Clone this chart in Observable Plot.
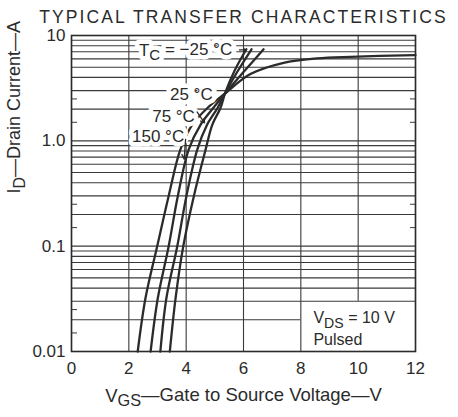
<!DOCTYPE html>
<html><head><meta charset="utf-8">
<script src="https://cdn.jsdelivr.net/npm/d3@7"></script>
<script src="https://cdn.jsdelivr.net/npm/@observablehq/plot@0.6"></script>
<style>
html,body{margin:0;padding:0;background:#fff;}
#chart svg{display:block;}
</style></head><body><div id="chart"></div>
<script>
// ---- text ----
const titleText = "TYPICAL TRANSFER CHARACTERISTICS";
const xAxisLabel = "VGS—Gate to Source Voltage—V";
const yAxisLabel = "ID—Drain Current—A";

// ---- axes ----
const xTicks = [0, 2, 4, 6, 8, 10, 12];
const yTickValues = [0.01, 0.1, 1, 10];
const yTickLabels = ["0.01", "0.1", "1.0", "10"];

// ---- grid ----
const decades = [0.01, 0.1, 1];
const mantissas = [1, 2, 3, 4, 5, 6, 7, 8, 9];
const minorMantissas = [1.5, 2.5];
const gridX = [0, 2, 4, 6, 8, 12];

// ---- series (V_GS in volts, I_D in amperes) ----
const series = ["−25", "25", "75", "150"];
const vgs_m25 = [3.43, 3.63, 3.90, 4.27, 4.68, 4.91, 5.20, 5.35, 5.70, 6.10];
const id_m25  = [0.01, 0.032, 0.1, 0.3, 0.83, 1.42, 2.06, 2.8, 4.7, 7.4];
const vgs_25  = [3.10, 3.31, 3.69, 4.01, 4.39, 4.73, 5.10, 5.35, 5.80, 6.28];
const id_25   = [0.01, 0.032, 0.1, 0.3, 0.83, 1.42, 2.06, 2.8, 4.6, 7.4];
const vgs_75  = [2.76, 3.01, 3.39, 3.71, 4.09, 4.50, 4.95, 5.35, 6.0, 6.7];
const id_75   = [0.01, 0.032, 0.1, 0.3, 0.83, 1.42, 2.06, 2.8, 4.5, 7.4];
const vgs_150 = [2.31, 2.58, 2.99, 3.39, 3.80, 4.21, 4.75, 5.35, 6.24, 7.40, 8.57, 9.73, 12.0];
const id_150  = [0.01, 0.032, 0.1, 0.3, 0.83, 1.42, 2.06, 2.8, 4.3, 5.5, 6.06, 6.28, 6.52];

// ---- annotations ----
const labelText = ["TC = −25 °C", "25 °C", "75 °C", "150 °C"];
const labelV = [3.98, 4.18, 3.56, 3.02];
const labelI = [7.27, 2.75, 1.71, 1.105];
const arrowV1 = [5.86, 4.38, 3.98];
const arrowI1 = [7.3, 1.88, 1.03];
const arrowV2 = [6.08, 4.64, 3.93];
const arrowI2 = [7.3, 1.48, 0.67];
const condText = ["VDS = 10 V", "Pulsed"];
const condV = [8.44, 8.44];
const condI = [0.0185, 0.0115];

// ---- build tables ----
const curveRows = [];
[[vgs_m25, id_m25], [vgs_25, id_25], [vgs_75, id_75], [vgs_150, id_150]].forEach(([vs, is], k) => {
  vs.forEach((v, j) => curveRows.push({t: series[k], v, i: is[j]}));
});
const hLines = [];
decades.forEach(d => mantissas.forEach(m => hLines.push(+(d * m).toPrecision(3))));
const hFull = hLines.filter(y => y !== 0.02);
const minorTicks = [];
decades.forEach(d => minorMantissas.forEach(m => minorTicks.push(+(d * m).toPrecision(3))));
const minorRight = minorTicks.filter(y => y > 0.03);

const labels = labelText.map((t, k) => ({t, v: labelV[k], i: labelI[k]}));
const arrows = arrowV1.map((v, k) => ({x1: v, y1: arrowI1[k], x2: arrowV2[k], y2: arrowI2[k]}));
const conds = condText.map((t, k) => ({t, v: condV[k], i: condI[k]}));

const ink = "#2b2b2b";
const font = "'Liberation Sans', Arial, Helvetica, sans-serif";

const chart = Plot.plot({
  width: 458, height: 417,
  marginLeft: 71, marginRight: 43, marginTop: 35, marginBottom: 66,
  style: {fontFamily: font, fontSize: "16px", color: ink, background: "#fff", overflow: "visible"},
  x: {domain: [0, 12]},
  y: {type: "log", domain: [0.01, 10]},
  marks: [
    Plot.ruleY(hFull, {x1: 0, x2: 12, stroke: "#3a3a3a", strokeWidth: 1.1}),
    Plot.ruleY([0.02], {x1: 0, x2: 8, stroke: "#3a3a3a", strokeWidth: 1.1}),
    Plot.ruleX(gridX, {y1: 0.01, y2: 10, stroke: "#3a3a3a", strokeWidth: 1.1}),
    Plot.ruleX([10], {y1: 0.03, y2: 10, stroke: "#3a3a3a", strokeWidth: 1.1}),
    Plot.axisY(minorTicks, {anchor: "left", tickSize: -6, tickFormat: () => "", label: null, stroke: "#3a3a3a"}),
    Plot.axisY(minorRight, {anchor: "right", tickSize: -6, tickFormat: () => "", label: null, stroke: "#3a3a3a"}),
    Plot.axisY(yTickValues, {anchor: "left", tickSize: 0, tickPadding: 6, fontSize: 17,
      tickFormat: d => yTickLabels[yTickValues.indexOf(d)], label: null}),
    Plot.axisX(xTicks, {anchor: "bottom", tickSize: 0, tickPadding: 10, fontSize: 17, label: null}),
    Plot.frame({stroke: ink, strokeWidth: 1.6}),
    Plot.line(curveRows, {x: "v", y: "i", z: "t", curve: "catmull-rom", stroke: ink, strokeWidth: 2.3}),
    Plot.text(labels, {x: "v", y: "i", text: "t", fontSize: 17, fill: ink, stroke: "white", strokeWidth: 9}),
    Plot.arrow(arrows, {x1: "x1", y1: "y1", x2: "x2", y2: "y2", stroke: ink, strokeWidth: 1.3, headLength: 6}),
    Plot.text(conds, {x: "v", y: "i", text: "t", textAnchor: "start", lineAnchor: "bottom", fontSize: 16, fill: ink}),
    Plot.text([titleText], {frameAnchor: "top", dy: -25, fontSize: 17.5, fill: ink}),
    Plot.text([xAxisLabel], {frameAnchor: "bottom", dy: 50, fontSize: 18.5, fill: ink}),
    Plot.text([yAxisLabel], {frameAnchor: "left", dx: -57, rotate: -90, fontSize: 18, fill: ink})
  ]
});
document.getElementById("chart").appendChild(chart);

// subscripts and letter spacing
const subParts = {
  "TC = −25 °C": [["T", 0], ["C", 1], [" = −25 °C", 0]],
  "VDS = 10 V": [["V", 0], ["DS", 1], [" = 10 V", 0]],
  [xAxisLabel]: [["V", 0], ["GS", 1], ["—Gate to Source Voltage—V", 0]],
  [yAxisLabel]: [["I", 0], ["D", 1], ["—Drain Current—A", 0]]
};
d3.select(chart).selectAll("text").each(function() {
  const t = this.textContent;
  if (t === titleText) this.setAttribute("letter-spacing", "2.1");
  const parts = subParts[t];
  if (!parts) return;
  this.textContent = "";
  let lowered = false;
  parts.forEach(([s, sub]) => {
    const ts = d3.select(this).append("tspan").text(s);
    if (sub && !lowered) { ts.attr("dy", "0.3em").attr("font-size", "0.88em"); lowered = true; }
    else if (!sub && lowered) { ts.attr("dy", "-0.3em"); lowered = false; }
  });
});
</script>
</body></html>
